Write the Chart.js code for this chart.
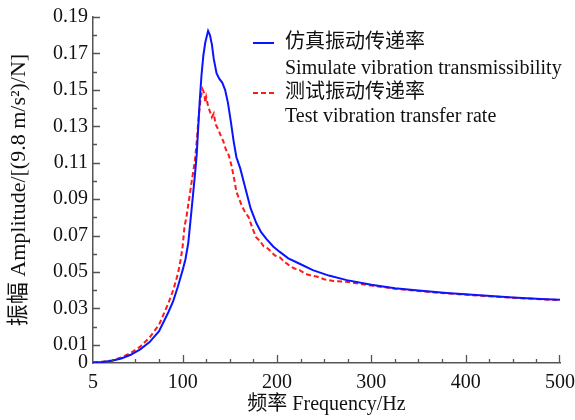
<!DOCTYPE html>
<html>
<head>
<meta charset="utf-8">
<script src="https://cdn.jsdelivr.net/npm/chart.js@4/dist/chart.umd.min.js"></script>
<style>
  html, body { margin: 0; padding: 0; background: #fff; }
  #wrap { width: 575px; height: 420px; }
</style>
</head>
<body>
<div id="wrap"><canvas id="transChart" width="575" height="420"></canvas></div>
<script>
// Données (fréquence Hz, amplitude)
const simFreq = [5, 15, 25, 35, 45, 55, 65, 75, 85, 90, 95, 100, 103, 106, 110, 113, 115, 118, 120, 122, 124, 127,
  129, 131, 133, 136, 139, 142, 145, 148, 151, 154, 157, 161, 165, 169, 172, 178, 183, 189, 196, 203, 212, 224,
  238, 255, 274, 300, 325, 350, 380, 415, 450, 480, 500];
const simAmp = [0.0003, 0.0006, 0.0012, 0.0025, 0.0045, 0.0075, 0.0115, 0.0175, 0.028, 0.034, 0.042, 0.051, 0.057,
  0.066, 0.087, 0.103, 0.115, 0.143, 0.158, 0.169, 0.176, 0.1824, 0.180, 0.175, 0.167, 0.159, 0.156, 0.154, 0.150,
  0.143, 0.133, 0.122, 0.113, 0.107, 0.099, 0.091, 0.085, 0.077, 0.072, 0.068, 0.064, 0.061, 0.0575, 0.0545,
  0.051, 0.048, 0.0455, 0.043, 0.041, 0.0398, 0.0385, 0.0372, 0.036, 0.0352, 0.0347];

const testFreq = [5, 15, 25, 35, 45, 55, 65, 75, 85, 90, 95, 98, 100, 102, 104, 106, 108, 110, 113, 115, 117, 119,
  121, 123, 124, 125, 127, 129, 131, 133, 135, 138, 141, 143, 146, 149, 152, 155, 157, 160, 163, 166, 170, 174,
  178, 182, 186, 190, 194, 198, 203, 208, 212, 218, 224, 230, 236, 242, 250, 260, 275, 300, 325, 350, 380, 415,
  450, 480, 500];
const testAmp = [0.0003, 0.0007, 0.0014, 0.003, 0.0055, 0.009, 0.014, 0.021, 0.033, 0.040, 0.049, 0.057, 0.064,
  0.075, 0.080, 0.087, 0.094, 0.101, 0.111, 0.122, 0.135, 0.145, 0.1504, 0.148, 0.143, 0.146, 0.141, 0.138, 0.135,
  0.137, 0.131, 0.128, 0.124, 0.122, 0.117, 0.114, 0.108, 0.100, 0.094, 0.090, 0.086, 0.083, 0.080, 0.074, 0.069,
  0.067, 0.064, 0.063, 0.061, 0.059, 0.058, 0.0555, 0.054, 0.052, 0.051, 0.049, 0.048, 0.0475, 0.046, 0.045,
  0.0445, 0.0425, 0.0408, 0.0395, 0.0382, 0.037, 0.0358, 0.035, 0.0345];

const xTickLabels = [5, 100, 200, 300, 400, 500];
const simLabel = ['仿真振动传递率', 'Simulate vibration transmissibility'];
const testLabel = ['测试振动传递率', 'Test vibration transfer rate'];

const FONT = '"Liberation Serif", "Times New Roman", "Noto Sans CJK SC", serif';
const AXIS_COLOR = '#555';

// Graduations internes + légende
const decorPlugin = {
  id: 'decor',
  afterDraw(chart) {
    const ctx = chart.ctx;
    const xs = chart.scales.x, ys = chart.scales.y;
    const area = chart.chartArea;
    ctx.save();
    ctx.strokeStyle = AXIS_COLOR;
    ctx.lineWidth = 1.3;
    ctx.beginPath();
    for (let v = 25; v < 500; v += 25) {
      const px = Math.round(xs.getPixelForValue(v)) + 0.5;
      const len = (v % 100 === 0) ? 8 : 4;
      ctx.moveTo(px, area.bottom);
      ctx.lineTo(px, area.bottom - len);
    }
    const px500 = Math.round(xs.getPixelForValue(500)) - 0.5;
    ctx.moveTo(px500, area.bottom);
    ctx.lineTo(px500, area.bottom - 8);
    for (let i = 1; i <= 19; i++) {
      const py = Math.round(ys.getPixelForValue(i / 100)) + 0.5;
      const len = (i % 2 === 1) ? 7 : 4;
      ctx.moveTo(area.left, py);
      ctx.lineTo(area.left + len, py);
    }
    ctx.stroke();

    // Légende
    const lx = 253, tx = 285;
    const rows = [43, 69, 93, 117];
    chart.data.datasets.forEach((ds, i) => {
      const y0 = rows[i * 2];
      ctx.strokeStyle = ds.borderColor;
      ctx.lineWidth = 2;
      ctx.setLineDash(ds.borderDash || []);
      ctx.beginPath();
      ctx.moveTo(lx, y0);
      ctx.lineTo(lx + 21, y0);
      ctx.stroke();
      ctx.setLineDash([]);
      ctx.fillStyle = '#111';
      ctx.font = '20px ' + FONT;
      ctx.textBaseline = 'middle';
      ctx.textAlign = 'left';
      ds.legendLines.forEach((t, j) => ctx.fillText(t, tx, rows[i * 2 + j]));
    });
    ctx.restore();
  }
};

const ctx = document.getElementById('transChart').getContext('2d');
new Chart(ctx, {
  type: 'line',
  data: {
    datasets: [{
      label: simLabel.join(' '),
      legendLines: simLabel,
      data: simFreq.map((f, i) => ({ x: f, y: simAmp[i] })),
      borderColor: '#0a14ff',
      borderWidth: 2,
      pointRadius: 0,
      tension: 0,
      fill: false
    }, {
      label: testLabel.join(' '),
      legendLines: testLabel,
      data: testFreq.map((f, i) => ({ x: f, y: testAmp[i] })),
      borderColor: '#ff1a1a',
      borderWidth: 2,
      borderDash: [5, 3],
      pointRadius: 0,
      tension: 0,
      fill: false
    }]
  },
  options: {
    responsive: false,
    animation: false,
    layout: { padding: { left: 0, right: 15, top: 16, bottom: 0 } },
    plugins: {
      legend: { display: false },
      tooltip: { enabled: false }
    },
    scales: {
      x: {
        type: 'linear',
        min: 5,
        max: 500,
        afterBuildTicks: scale => { scale.ticks = xTickLabels.map(v => ({ value: v })); },
        afterFit: scale => {
          scale.height = 57;
          scale.paddingRight = 0;
          scale.paddingLeft = 0;
        },
        grid: { display: false, drawTicks: false },
        border: { display: true, color: AXIS_COLOR, width: 1.5 },
        ticks: {
          color: '#111',
          padding: 8,
          maxRotation: 0,
          font: { family: FONT, size: 20 },
          callback: v => String(v)
        },
        title: {
          display: true,
          text: '频率 Frequency/Hz',
          color: '#111',
          font: { family: FONT, size: 20 },
          padding: { top: 0, bottom: 3 }
        }
      },
      y: {
        min: 0,
        max: 0.19,
        afterFit: scale => { scale.width = 93; },
        grid: { display: false, drawTicks: false },
        border: { display: true, color: AXIS_COLOR, width: 1.5 },
        ticks: {
          stepSize: 0.01,
          color: '#111',
          padding: 5,
          autoSkip: false,
          font: { family: FONT, size: 20 },
          callback: v => {
            const k = Math.round(v * 100);
            if (k === 0) return '0';
            return (k % 2 === 1) ? (k / 100).toFixed(2) : '';
          }
        },
        title: {
          display: true,
          text: '振幅 Amplitude/[(9.8 m/s²)/N]',
          color: '#111',
          font: { family: FONT, size: 22 },
          padding: { top: 6, bottom: 0 }
        }
      }
    }
  },
  plugins: [decorPlugin]
});
</script>
</body>
</html>
